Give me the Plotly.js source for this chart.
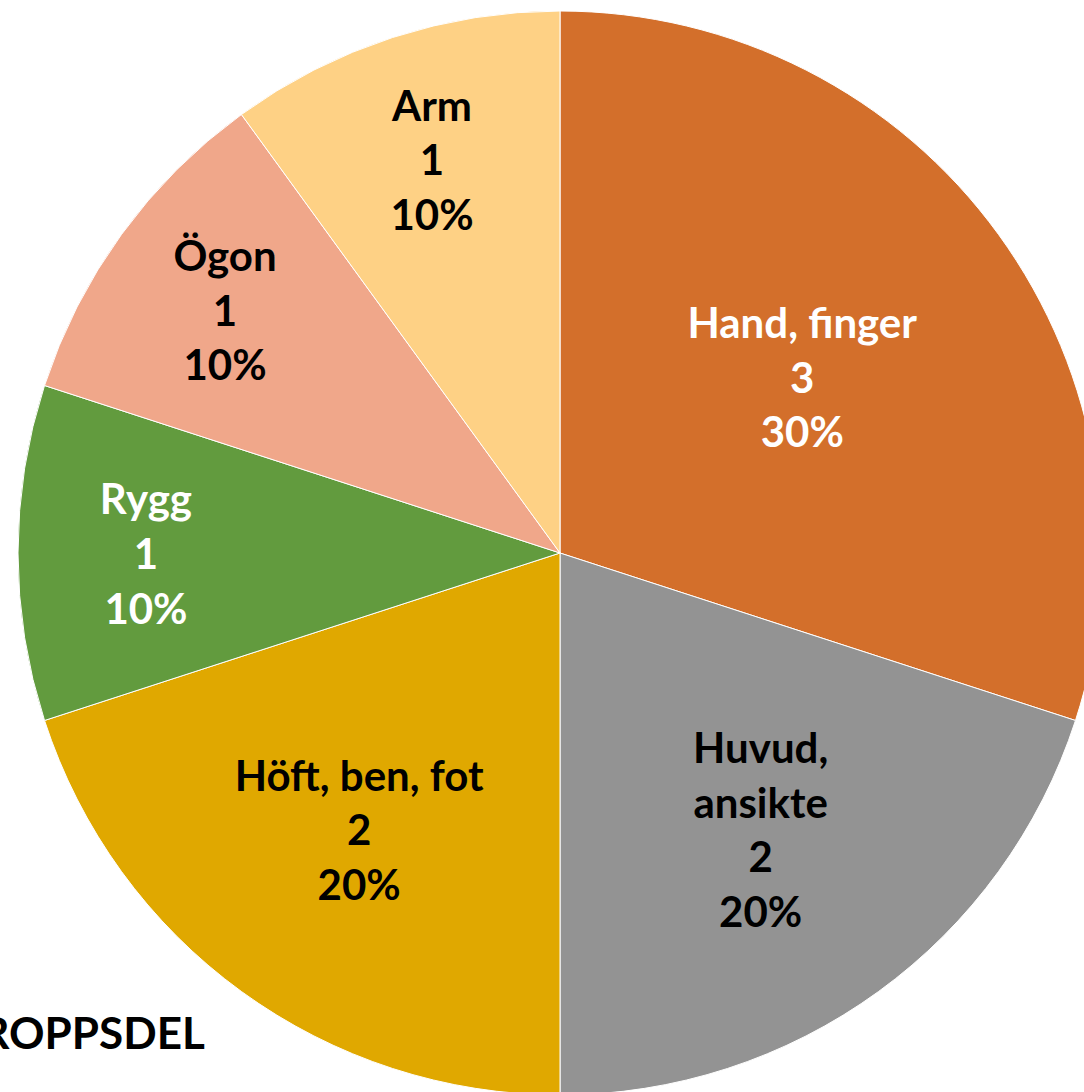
<!DOCTYPE html>
<html>
<head>
<meta charset="utf-8">
<script src="https://cdn.plot.ly/plotly-3.0.1.min.js"></script>
<style>
html, body { margin: 0; padding: 0; width: 1084px; height: 1092px; overflow: hidden; background: #fff; }
#chart { position: absolute; left: -60px; top: 0px; width: 1180px; height: 1100px; }
</style>
</head>
<body>
<div id="chart"></div>
<script>
const categories = ["Hand, finger", "Huvud, ansikte", "Höft, ben, fot", "Rygg", "Ögon", "Arm"];
const labelText = ["Hand, finger", "Huvud,<br>ansikte", "Höft, ben, fot", "Rygg", "Ögon", "Arm"];
const values = [3, 2, 2, 1, 1, 1];
const colors = ["#D36F2B", "#939393", "#E0A800", "#629B3E", "#F0A78A", "#FED185"];
const textColors = ["#FFFFFF", "#000000", "#000000", "#FFFFFF", "#000000", "#000000"];
const chartTitle = "KROPPSDEL";

const trace = {
  type: "pie",
  labels: categories,
  values: values,
  text: labelText,
  sort: false,
  direction: "clockwise",
  rotation: 0,
  marker: { colors: colors, line: { color: "#FFFFFF", width: 1 } },
  texttemplate: "%{text}<br>%{value}<br>%{percent}",
  textposition: "inside",
  insidetextorientation: "horizontal",
  insidetextfont: { family: "Lato, 'Open Sans', sans-serif", size: 42, color: textColors, weight: "bold" },
  hoverinfo: "none",
  showlegend: false,
  domain: { x: [78/1180, 1162/1180], y: [5/1100, 1089/1100] }
};

const layout = {
  width: 1180, height: 1100,
  margin: { l: 0, r: 0, t: 0, b: 0 },
  paper_bgcolor: "#FFFFFF",
  showlegend: false,
  annotations: [{
    text: chartTitle, xref: "paper", yref: "paper",
    x: 267/1180, y: (1100-1032)/1100, xanchor: "right", yanchor: "middle",
    showarrow: false,
    font: { family: "Lato, 'Open Sans', sans-serif", size: 44, color: "#000000", weight: "bold" }
  }]
};

Plotly.newPlot("chart", [trace], layout, { staticPlot: true });
</script>
</body>
</html>
